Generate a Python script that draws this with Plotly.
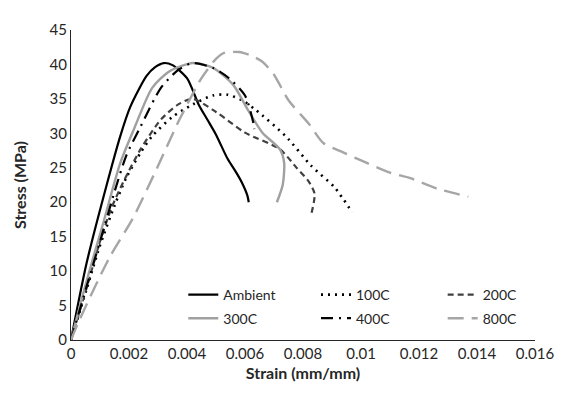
import plotly.graph_objects as go

amb_x = [0, 0.00054, 0.00123, 0.0017, 0.00204, 0.0026, 0.0029, 0.0032, 0.0035, 0.004, 0.0044, 0.0047, 0.0050, 0.0054, 0.0057, 0.0059, 0.00608, 0.00613]
amb_y = [0, 11.2, 22.5, 29.6, 33.8, 38.3, 39.6, 40.2, 39.9, 38.0, 34.2, 32.0, 29.8, 26.3, 24.3, 22.8, 21.0, 20.0]

c100_x = [0, 0.00054, 0.00099, 0.0015, 0.0019, 0.0024, 0.0028, 0.0035, 0.0042, 0.0049, 0.0054, 0.0059, 0.00637, 0.0074, 0.00828, 0.0091, 0.0097]
c100_y = [0, 7.4, 13.6, 19.5, 23.5, 27.2, 29.6, 32.4, 34.2, 35.5, 35.6, 34.8, 33.4, 29.6, 25.3, 22.1, 18.5]

c200_x = [0, 0.00054, 0.00099, 0.0014, 0.0018, 0.0024, 0.0031, 0.0037, 0.0042, 0.005, 0.006, 0.0072, 0.0078, 0.0082, 0.0084, 0.00827]
c200_y = [0, 7.6, 14.2, 19.2, 22.9, 27.7, 32.0, 34.2, 35.0, 33.1, 30.1, 27.7, 24.9, 23.0, 21.2, 18.0]

c300_x = [0, 0.00054, 0.00110, 0.0017, 0.00216, 0.0028, 0.0034, 0.0042, 0.0049, 0.0056, 0.0061, 0.0066, 0.0072, 0.00735, 0.0073, 0.0071]
c300_y = [0, 8.6, 16.8, 25.7, 30.5, 36.6, 39.0, 40.2, 39.5, 37.0, 33.4, 30.1, 27.7, 25.7, 22.5, 20.0]

c400_x = [0, 0.00054, 0.00105, 0.0015, 0.0019, 0.0024, 0.0031, 0.0037, 0.0042, 0.0049, 0.00545, 0.006, 0.0063, 0.00632]
c400_y = [0, 7.8, 15.0, 21.5, 26.7, 31.0, 36.6, 39.2, 40.2, 39.5, 38.0, 35.5, 31.3, 30.6]

c800_x = [0, 0.0003, 0.00133, 0.00215, 0.00296, 0.00374, 0.0045, 0.005, 0.0053, 0.0058, 0.0062, 0.0066, 0.007, 0.0075, 0.0082, 0.0087, 0.0094, 0.0102, 0.011, 0.0117, 0.0126, 0.0137]
c800_y = [0, 3.0, 12.0, 17.8, 24.9, 32.0, 38.0, 40.8, 41.7, 41.8, 41.3, 40.4, 38.5, 34.8, 31.4, 28.6, 27.2, 25.7, 24.3, 23.5, 22.0, 20.8]

x_ticks = [0, 0.002, 0.004, 0.006, 0.008, 0.01, 0.012, 0.014, 0.016]
x_tick_labels = ["0", "0.002", "0.004", "0.006", "0.008", "0.01", "0.012", "0.014", "0.016"]
y_ticks = [0, 5, 10, 15, 20, 25, 30, 35, 40, 45]

series = [
    ("Ambient", amb_x, amb_y, "#000000", "solid", 2.2, "legend"),
    ("100C", c100_x, c100_y, "#000000", "2px,5px", 2.6, "legend2"),
    ("200C", c200_x, c200_y, "#404040", "6px,4px", 2.2, "legend3"),
    ("300C", c300_x, c300_y, "#a0a0a0", "solid", 2.4, "legend4"),
    ("400C", c400_x, c400_y, "#000000", "12px,6px,2px,6px", 2.2, "legend5"),
    ("800C", c800_x, c800_y, "#a6a6a6", "16px,8px", 2.4, "legend6"),
]

fig = go.Figure()
for name, xs, ys, col, dash, w, lg in series:
    fig.add_trace(go.Scatter(x=xs, y=ys, mode="lines", name=name, legend=lg,
                             line=dict(color=col, dash=dash, width=w, shape="spline", smoothing=0.7)))

font_family = "Lato, Open Sans, sans-serif"
col_x = [0.242, 0.528, 0.801]
row_y = [0.145, 0.069]
legend_common = dict(xanchor="left", yanchor="middle", bgcolor="rgba(0,0,0,0)",
                     font=dict(size=14, color="#262626"))
legends = {}
names = ["legend", "legend2", "legend3", "legend4", "legend5", "legend6"]
for i, nm in enumerate(names):
    legends[nm] = dict(x=col_x[i % 3], y=row_y[i // 3], **legend_common)

# page body has an 8px default margin; size the figure so the plot area lands where the reference has it
fig.update_layout(
    width=558, height=389,
    margin=dict(l=62, r=24, t=14, b=57),
    paper_bgcolor="white", plot_bgcolor="white",
    font=dict(family=font_family, color="#262626", size=14),
    showlegend=True,
    xaxis=dict(range=[0, 0.016], tickvals=x_ticks, ticktext=x_tick_labels,
               showgrid=False, zeroline=False, showline=True, linecolor="#262626",
               linewidth=1.2, ticks="", tickfont=dict(size=15), ticklabeloverflow="allow",
               title=dict(text="<b>Strain (mm/mm)</b>", font=dict(size=16), standoff=6)),
    yaxis=dict(range=[0, 45], tickvals=y_ticks, showgrid=False, zeroline=False,
               showline=True, linecolor="#262626", linewidth=1.2, ticks="",
               tickfont=dict(size=15),
               title=dict(text="<b>Stress (MPa)</b>", font=dict(size=16), standoff=18)),
    **legends,
)

fig.write_html("out.html")
